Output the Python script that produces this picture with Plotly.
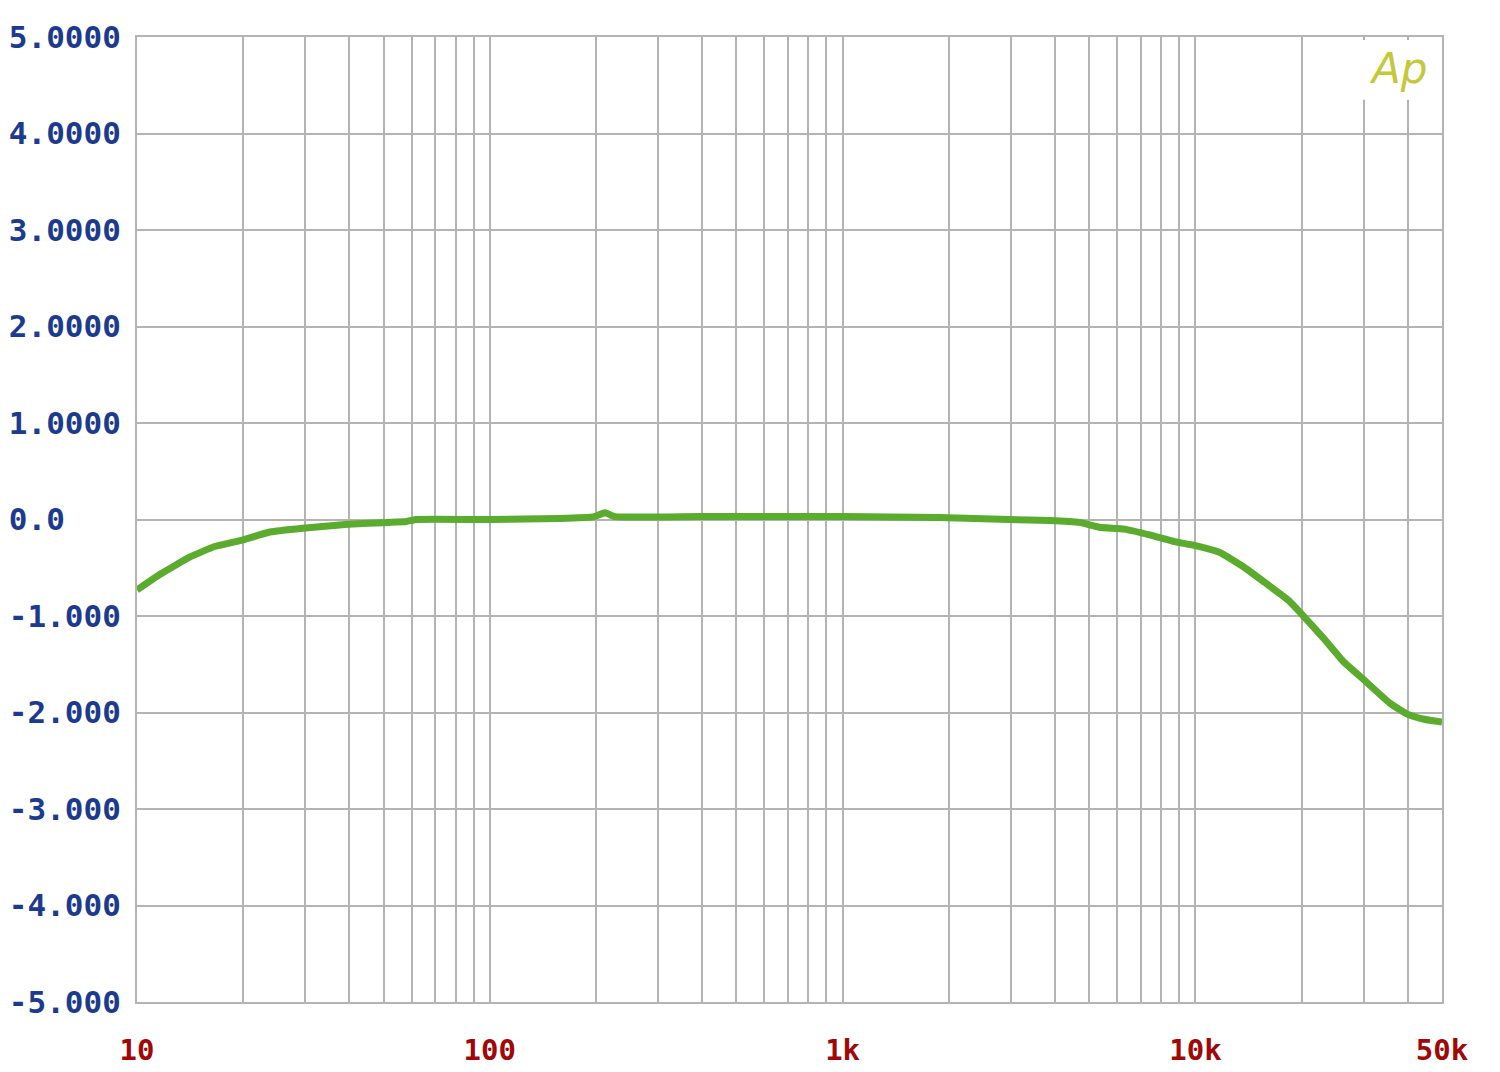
import math
import plotly.graph_objects as go

# Frequency response data (Hz, dB)
freq_hz = [10, 11.6, 14.1, 16.6, 20, 23.8, 29.5, 39.6, 52, 58, 62, 100, 158, 198, 212, 226,
           394, 1000, 1884, 2972, 3856, 4690, 5345, 6290, 7413, 8730, 10000, 11700, 13800,
           15700, 18400, 20000, 23200, 26400, 30000, 35500, 40000, 44500, 50000]
level_db = [-0.73, -0.57, -0.39, -0.28, -0.21, -0.13, -0.09, -0.05, -0.03, -0.02, 0.0, 0.0, 0.01,
            0.03, 0.07, 0.03, 0.03, 0.03, 0.02, 0.0, -0.01, -0.03, -0.08, -0.10, -0.16, -0.23,
            -0.27, -0.34, -0.50, -0.65, -0.84, -0.98, -1.24, -1.48, -1.66, -1.90, -2.02, -2.07, -2.10]

# Axis ticks
x_tickvals = [10, 20, 30, 40, 50, 60, 70, 80, 90,
              100, 200, 300, 400, 500, 600, 700, 800, 900,
              1000, 2000, 3000, 4000, 5000, 6000, 7000, 8000, 9000,
              10000, 20000, 30000, 40000, 50000]
x_ticktext = ["10", "", "", "", "", "", "", "", "",
              "100", "", "", "", "", "", "", "", "",
              "1k", "", "", "", "", "", "", "", "",
              "10k", "", "", "", "50k"]
y_tickvals = [5, 4, 3, 2, 1, 0, -1, -2, -3, -4, -5]
y_ticktext = ["5.0000", "4.0000", "3.0000", "2.0000", "1.0000", "0.0\u00a0\u00a0\u00a0",
              "-1.000", "-2.000", "-3.000", "-4.000", "-5.000"]

fig = go.Figure()
fig.add_trace(go.Scatter(
    x=freq_hz, y=level_db, mode="lines",
    line=dict(color="#5aab2e", width=7, shape="spline", smoothing=0.4),
    showlegend=False, hoverinfo="skip",
))

grid_color = "#b4b4b4"
fig.update_layout(
    width=1500, height=1072,
    margin=dict(l=137, r=58, t=37, b=70, autoexpand=False),
    paper_bgcolor="white", plot_bgcolor="white",
    xaxis=dict(
        type="log", range=[1, math.log10(50000)],
        tickvals=x_tickvals, ticktext=x_ticktext,
        showgrid=True, gridcolor=grid_color, gridwidth=2,
        showline=True, linecolor=grid_color, linewidth=2, mirror=True,
        ticks="", ticklabelstandoff=21, zeroline=False, automargin=False,
        tickfont=dict(family="DejaVu Sans Mono", size=29, color="#a00808", weight="bold"),
    ),
    yaxis=dict(
        range=[-5, 5],
        tickvals=y_tickvals, ticktext=y_ticktext,
        showgrid=True, gridcolor=grid_color, gridwidth=2,
        showline=True, linecolor=grid_color, linewidth=2, mirror=True,
        ticks="", ticklabelstandoff=8, zeroline=False, automargin=False,
        tickfont=dict(family="DejaVu Sans Mono", size=31, color="#1c3a8e", weight="bold"),
    ),
)

# white box behind the Ap logo
fig.add_shape(type="rect", xref="paper", yref="paper",
              x0=0.922, x1=0.997, y0=0.935, y1=0.997,
              fillcolor="white", line=dict(width=0), layer="above")
fig.add_annotation(xref="paper", yref="paper", x=0.966, y=0.967,
                   xanchor="center", yanchor="middle",
                   text="<i>Ap</i>", showarrow=False,
                   font=dict(family="DejaVu Sans", size=42, color="#c4c83a"))

fig.write_html("out.html", config={"displayModeBar": False},
               post_script="document.body.style.margin='0';document.body.style.overflow='hidden';")
